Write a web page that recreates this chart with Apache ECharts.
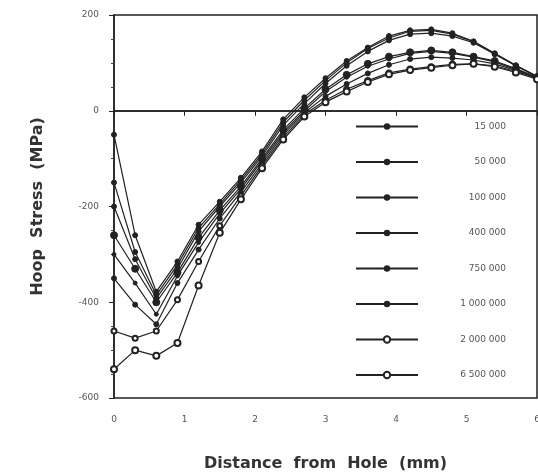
<!DOCTYPE html>
<html>
<head>
<meta charset="utf-8">
<script src="https://cdn.jsdelivr.net/npm/echarts@6/dist/echarts.min.js"></script>
<style>
html,body{margin:0;padding:0;background:#fff;}
#main{width:538px;height:474px;}
</style>
</head>
<body>
<div id="main"></div>
<script>
// distance from hole (mm)
var distance = [0, 0.3, 0.6, 0.9, 1.2, 1.5, 1.8, 2.1, 2.4, 2.7, 3.0, 3.3, 3.6, 3.9, 4.2, 4.5, 4.8, 5.1, 5.4, 5.7, 6.0];

var cycleNames = ['15 000', '50 000', '100 000', '400 000', '750 000', '1 000 000', '2 000 000', '6 500 000'];

// hoop stress (MPa) per number of cycles
var s15k  = [-50, -260, -378, -315, -238, -190, -140, -85, -18, 28, 68, 104, 132, 156, 168, 170, 162, 145, 120, 95, 72];
var s50k  = [-150, -295, -385, -322, -245, -195, -145, -90, -24, 22, 63, 100, 130, 152, 166, 168, 160, 144, 119, 94, 72];
var s100k = [-200, -310, -392, -330, -252, -200, -150, -95, -30, 15, 57, 94, 124, 147, 160, 162, 156, 142, 118, 94, 71];
var s400k = [-260, -330, -400, -338, -265, -208, -158, -100, -40, 5, 45, 75, 98, 113, 122, 126, 122, 113, 104, 88, 70];
var s750k = [-300, -360, -425, -345, -275, -215, -163, -104, -45, 0, 40, 70, 93, 108, 120, 124, 120, 112, 102, 86, 70];
var s1m   = [-350, -405, -446, -360, -290, -225, -170, -110, -50, -4, 30, 56, 78, 96, 108, 112, 110, 106, 98, 84, 68];
var s2m   = [-460, -475, -460, -395, -315, -240, -178, -115, -55, -8, 22, 45, 63, 79, 87, 92, 97, 98, 94, 82, 68];
var s6_5m = [-540, -500, -512, -485, -365, -255, -185, -120, -60, -12, 18, 40, 60, 76, 85, 90, 95, 98, 92, 80, 66];

var allSeries = [s15k, s50k, s100k, s400k, s750k, s1m, s2m, s6_5m];
var symbols = ['circle', 'circle', 'circle', 'circle', 'circle', 'circle', 'emptyCircle', 'emptyCircle'];
var symbolSizes = [5, 5, 5, 7, 4, 5, 5, 6];

function pairs(vals){
	var out = [];
	for (var i = 0; i < distance.length; i++) out.push([distance[i], vals[i]]);
	return out;
}

var series = [];
for (var k = 0; k < allSeries.length; k++) {
	series.push({
		name: cycleNames[k],
		type: 'line',
		data: pairs(allSeries[k]),
		symbol: symbols[k],
		symbolSize: symbolSizes[k],
		lineStyle: {color: '#222', width: 1.2},
		itemStyle: {color: '#222', borderColor: '#222'},
		z: 3
	});
}
// zero line
series[0].markLine = {
	silent: true,
	symbol: 'none',
	label: {show: false},
	lineStyle: {color: '#222', width: 1.5, type: 'solid'},
	data: [{yAxis: 0}]
};

var chart = echarts.init(document.getElementById('main'));
chart.setOption({
	animation: false,
	backgroundColor: '#fff',
	grid: {
		left: 114, top: 15, right: 1, bottom: 76,
		outerBoundsMode: 'none',
		containLabel: false,
		show: true, borderColor: '#222', borderWidth: 1.5
	},
	legend: {
		orient: 'vertical',
		left: 350, top: 117,
		itemWidth: 62, itemHeight: 8, itemGap: 26.5,
		data: cycleNames,
		formatter: function(name){ return '{a|' + name + '}'; },
		textStyle: {
			rich: {a: {width: 83, align: 'right', fontSize: 9, color: '#555', fontFamily: 'DejaVu Sans'}}
		}
	},
	xAxis: {
		type: 'value',
		min: 0, max: 6, interval: 1,
		name: 'Distance  from  Hole  (mm)',
		nameLocation: 'middle', nameGap: 58,
		nameTextStyle: {fontSize: 16, fontWeight: 'bold', color: '#333', fontFamily: 'DejaVu Sans'},
		axisLine: {lineStyle: {color: '#222', width: 1.5}},
		axisTick: {length: 5, lineStyle: {color: '#222'}},
		axisLabel: {margin: 17, fontSize: 9, color: '#555', fontFamily: 'DejaVu Sans'},
		splitLine: {show: false}
	},
	yAxis: {
		type: 'value',
		min: -600, max: 200, interval: 200,
		name: 'Hoop  Stress  (MPa)',
		nameLocation: 'middle', nameGap: 68,
		nameTextStyle: {fontSize: 16, fontWeight: 'bold', color: '#333', fontFamily: 'DejaVu Sans'},
		axisLine: {lineStyle: {color: '#222', width: 1.5}},
		axisTick: {length: 5, lineStyle: {color: '#222'}},
		minorTick: {show: true, splitNumber: 4, length: 3, lineStyle: {color: '#444'}},
		axisLabel: {margin: 15, fontSize: 9, color: '#555', fontFamily: 'DejaVu Sans'},
		splitLine: {show: false}
	},
	series: series
});
</script>
</body>
</html>
